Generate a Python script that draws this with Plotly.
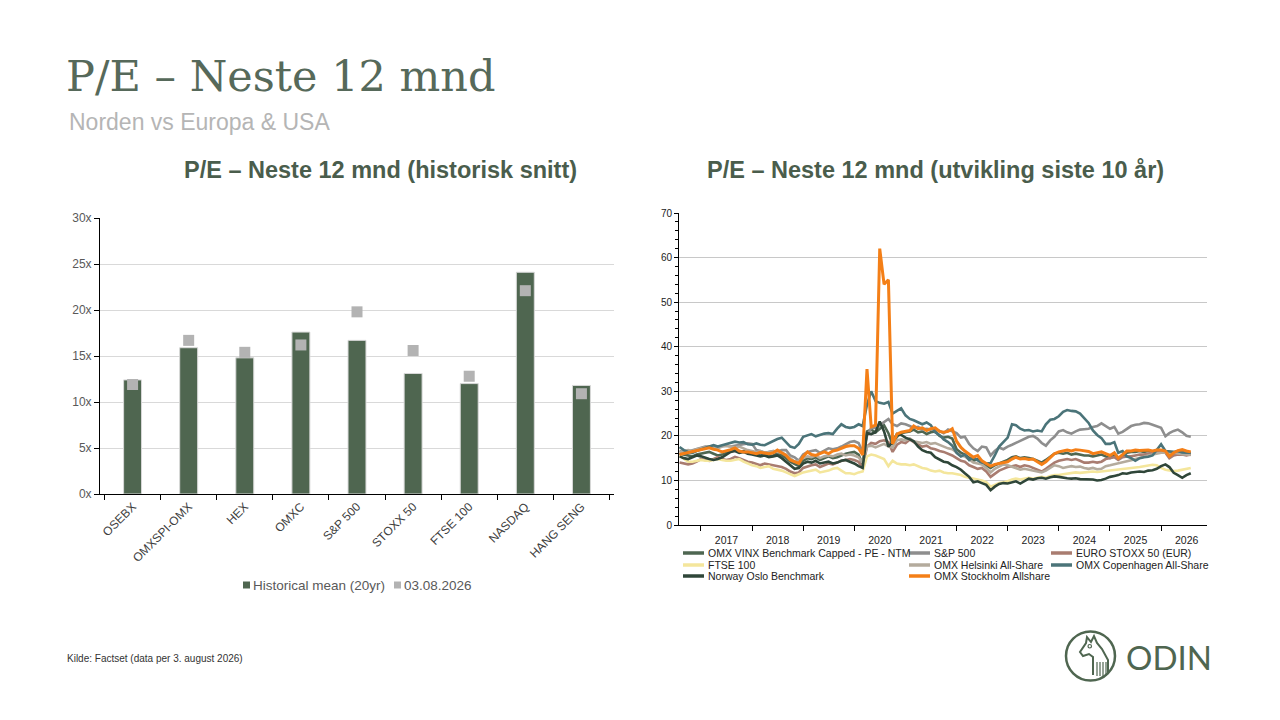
import pandas as pd
import plotly.graph_objects as go

# the page body has an 8px margin, so the figure is drawn 8px in from the corner
OFF = 8
W, H = 1264, 704
SANS = "Liberation Sans, Arial, sans-serif"
GREEN = "#4f6650"


def px(x):
    return (x - OFF) / W


def py(y):
    return 1 - (y - OFF) / H


# ---- left chart: P/E historical mean vs today ----
indices = ["OSEBX", "OMXSPI-OMX", "HEX", "OMXC", "S&P 500", "STOXX 50", "FTSE 100", "NASDAQ", "HANG SENG"]
hist_mean = [12.4, 15.9, 14.8, 17.6, 16.7, 13.1, 12.0, 24.1, 11.8]
current_pe = [11.9, 16.7, 15.4, 16.2, 19.8, 15.6, 12.8, 22.1, 10.9]

# ---- right chart: monthly P/E NTM, Aug 2016 - Aug 2026 ----
dates = pd.date_range("2016-08-01", "2026-08-01", freq="MS")

vinx = [16.0, 15.8, 15.6, 15.4, 15.8,
        16.0, 16.2, 16.4, 16.0, 15.6, 15.8, 16.2, 16.6, 16.8, 16.4, 16.6, 16.2,
        16.0, 15.8, 15.6, 15.8, 15.4, 15.6, 16.0, 15.6, 15.0, 14.2, 13.6, 13.2,
        14.4, 15.0, 14.8, 15.2, 14.6, 15.0, 15.4, 15.0, 15.2, 15.6, 16.0, 16.2,
        16.4, 15.8, 13.6, 21.0, 21.4, 20.8, 21.6, 22.4, 20.6, 18.0, 19.8, 20.6,
        20.8, 21.0, 21.4, 20.8, 21.0, 20.4, 20.8, 21.0, 20.0, 19.6, 19.8, 19.4,
        17.0, 16.2, 15.8, 15.0, 14.4, 14.8, 13.8, 13.4, 12.8, 13.4, 13.8, 14.2,
        14.6, 15.2, 15.4, 15.0, 15.2, 15.0, 14.8, 14.4, 14.0, 14.6, 15.4, 16.0,
        16.2, 16.0, 16.2, 15.8, 16.0, 15.8, 15.6, 15.6, 15.4, 15.6, 15.8, 15.4,
        15.0, 15.6, 14.8, 15.6, 16.2, 16.4, 16.4, 16.6, 16.4, 16.6, 16.4, 16.6,
        16.6, 16.4, 15.8, 16.2, 16.4, 16.6, 16.2, 16.0]

sp500 = [16.6, 16.4, 16.5, 16.8, 17.0,
         17.4, 17.6, 17.6, 17.4, 17.6, 17.7, 17.8, 17.6, 17.8, 18.0, 18.2, 18.3,
         18.2, 16.8, 16.6, 16.2, 16.4, 16.6, 16.5, 16.8, 16.8, 15.6, 15.2, 14.4,
         15.8, 16.4, 16.6, 16.8, 16.2, 16.8, 17.2, 17.0, 17.2, 17.6, 18.2, 18.6,
         18.8, 18.4, 16.4, 20.0, 21.8, 21.8, 22.4, 23.2, 23.8, 22.6, 22.2, 22.8,
         22.6, 22.2, 21.8, 22.0, 21.4, 21.6, 21.4, 21.6, 21.0, 20.6, 21.4, 21.0,
         20.6, 19.6, 19.8, 18.2, 17.2, 16.6, 17.6, 17.4, 15.6, 16.6, 17.4, 17.0,
         17.6, 18.0, 18.4, 18.8, 19.2, 19.8, 20.0, 19.4, 18.4, 17.8, 19.0, 19.8,
         21.0, 21.3, 20.8, 20.5, 21.0, 21.4, 21.5, 21.6, 22.0, 22.2, 22.8, 22.2,
         21.6, 22.0, 20.5, 20.9, 21.6, 22.2, 22.5, 22.6, 22.9, 22.8, 22.5, 22.2,
         21.8, 19.9, 20.6, 21.1, 21.4, 20.8, 20.0, 19.8]

eurostoxx = [14.0, 13.8, 13.6, 13.8, 14.2,
             14.8, 14.6, 14.4, 14.8, 15.2, 14.8, 14.6, 14.8, 15.3, 15.0, 14.6, 14.2,
             14.0, 13.6, 13.4, 13.8, 13.6, 13.4, 13.2, 13.0, 12.6, 12.0, 11.6, 11.8,
             12.8, 13.2, 13.4, 13.6, 13.0, 13.4, 13.8, 13.6, 14.0, 14.4, 14.6, 14.8,
             14.6, 14.2, 12.8, 17.6, 18.4, 18.2, 18.8, 19.0, 18.6, 16.4, 18.0, 18.6,
             18.4, 19.2, 18.6, 18.0, 17.6, 17.8, 17.2, 17.0, 16.6, 16.4, 16.0, 15.6,
             15.0, 14.4, 14.2, 13.4, 13.0, 12.6, 12.8, 12.0, 10.8, 11.4, 12.2, 12.6,
             13.0, 13.2, 13.4, 13.0, 13.4, 13.2, 12.8, 12.4, 12.0, 12.6, 13.4, 14.0,
             14.4, 14.6, 14.8, 14.6, 14.8, 14.4, 14.0, 14.0, 14.2, 14.0, 14.2, 14.8,
             15.0, 15.2, 14.6, 15.2, 15.4, 15.4, 15.6, 15.8, 15.8, 16.0, 16.2, 16.6,
             16.4, 16.2, 15.0, 15.6, 15.8, 15.8, 15.6, 15.8]

ftse = [15.6, 14.8, 14.2, 14.2, 14.4,
        14.6, 14.4, 14.4, 14.6, 14.8, 14.6, 14.4, 14.4, 14.6, 14.8, 14.2, 13.8,
        13.4, 13.2, 12.8, 13.0, 13.2, 12.6, 12.4, 12.2, 11.8, 11.4, 11.0, 11.4,
        11.8, 12.0, 12.2, 12.4, 11.8, 12.0, 12.2, 12.6, 12.8, 12.2, 11.6, 11.6,
        11.4, 11.8, 12.0, 15.4, 15.8, 15.6, 15.2, 14.8, 13.2, 14.4, 13.8, 13.6,
        13.6, 13.4, 13.6, 13.2, 12.8, 12.6, 12.2, 12.0, 12.2, 11.8, 11.6, 11.6,
        11.4, 11.2, 10.8, 10.6, 10.4, 10.2, 10.0, 9.6, 8.6, 9.0, 9.4, 9.6,
        9.8, 10.2, 10.4, 10.2, 10.4, 10.6, 10.4, 10.6, 10.8, 10.6, 11.0, 11.2,
        11.2, 11.4, 11.5, 11.6, 11.8, 11.7, 11.8, 11.9, 12.0, 11.9, 12.0, 12.2,
        12.3, 12.4, 12.4, 12.6, 12.7, 12.8, 12.9, 13.0, 13.2, 13.3, 13.5, 13.4,
        12.8, 12.4, 12.2, 12.1, 12.2, 12.4, 12.6, 12.8]

helsinki = [16.4, 16.6, 16.8, 16.6, 17.0,
            17.2, 17.4, 17.6, 17.4, 17.2, 17.6, 17.8, 17.6, 17.4, 17.6, 17.2, 16.8,
            16.6, 16.4, 16.6, 16.2, 16.4, 16.6, 16.4, 16.2, 15.8, 15.0, 14.2, 14.4,
            15.0, 15.4, 15.2, 15.6, 15.0, 15.4, 15.6, 15.4, 15.8, 16.0, 15.6, 15.8,
            15.6, 15.2, 14.0, 17.6, 17.8, 17.4, 17.8, 18.2, 17.6, 17.4, 19.0, 19.2,
            19.0, 19.4, 18.8, 18.6, 18.4, 18.6, 18.2, 18.4, 18.0, 17.6, 17.2, 17.0,
            16.2, 15.6, 15.4, 14.6, 14.0, 13.8, 13.6, 12.8, 11.8, 12.6, 13.2, 13.6,
            13.4, 13.0, 12.8, 12.4, 12.6, 12.4, 12.2, 12.0, 11.8, 12.2, 12.8, 13.4,
            13.2, 12.8, 13.0, 13.2, 13.0, 13.1, 12.8, 12.6, 12.8, 12.5, 12.6, 13.2,
            13.4, 13.6, 13.8, 14.0, 14.3, 14.5, 14.8, 15.0, 15.3, 15.6, 15.8, 16.0,
            16.2, 16.2, 16.3, 16.2, 16.0, 15.9, 15.8, 15.7]

copenhagen = [17.5, 16.8, 16.4, 16.2, 16.6,
              17.0, 17.4, 17.6, 17.9, 17.6, 17.9, 18.2, 18.5, 18.7, 18.5, 18.6, 18.1,
              18.0, 18.3, 18.0, 17.9, 18.4, 18.8, 19.3, 19.6, 18.6, 17.6, 17.3, 18.2,
              19.8, 20.2, 20.4, 19.9, 20.2, 20.5, 20.6, 20.4, 21.6, 22.6, 22.0, 21.8,
              22.0, 22.6, 22.2, 27.0, 30.0, 27.8, 27.4, 27.2, 27.6, 25.0, 25.6, 26.2,
              24.6, 23.8, 23.5, 23.0, 22.6, 23.0, 22.4, 20.8, 20.2, 19.2, 18.6, 17.8,
              16.2, 15.4, 15.8, 14.6, 15.2, 14.5, 14.0, 13.8, 13.9, 15.6, 17.6, 18.6,
              19.6, 22.6, 22.4, 21.6, 21.2, 21.3, 21.0, 21.2, 21.0, 22.6, 23.6, 23.8,
              24.4, 25.4, 25.8, 25.6, 25.5, 25.0, 24.0, 22.9, 21.2, 20.2, 19.5, 18.2,
              18.2, 18.6, 16.2, 16.6, 15.4, 15.0, 14.4, 15.0, 15.2, 15.3, 15.6, 16.8,
              18.1, 16.6, 16.5, 16.4, 16.6, 16.3, 16.2, 16.2]

norway = [15.4, 15.0, 14.8, 15.2, 15.6,
          15.4, 15.0, 14.8, 14.6, 14.8, 15.2, 15.8, 16.4, 16.6, 16.2, 16.4, 16.0,
          15.8, 15.6, 15.4, 15.6, 15.2, 15.4, 15.6, 15.0, 14.2, 13.4, 12.6, 12.8,
          13.8, 14.2, 14.0, 14.4, 13.8, 14.0, 14.2, 13.8, 14.0, 14.4, 14.6, 14.2,
          13.8, 13.2, 12.8, 20.6, 20.4, 20.8, 23.2, 21.0, 17.6, 18.6, 20.4, 20.2,
          19.6, 19.2, 18.8, 17.6, 16.8, 16.4, 16.2, 15.2, 14.6, 14.2, 14.0, 13.4,
          13.0, 12.4, 11.6, 10.8, 9.6, 9.8, 9.4, 9.0, 7.8, 8.6, 9.2, 9.4,
          9.3, 9.6, 9.8, 9.3, 9.8, 10.4, 10.2, 10.5, 10.6, 10.4, 10.7, 10.9,
          10.8, 10.6, 10.5, 10.4, 10.5, 10.3, 10.3, 10.2, 10.2, 10.0, 10.1, 10.4,
          10.8, 11.0, 11.2, 11.6, 11.5, 11.8, 11.9, 12.0, 11.9, 12.2, 12.3, 12.6,
          13.2, 13.6, 13.0, 11.7, 11.2, 10.6, 11.2, 11.6]

stockholm = [15.8, 16.0, 16.2, 16.4, 16.6,
             16.8, 17.0, 17.3, 17.0, 16.8, 16.4, 16.6, 16.9, 17.3, 16.6, 16.4, 16.4,
             16.2, 16.0, 16.3, 16.1, 16.0, 16.2, 16.8, 16.2, 15.6, 14.6, 14.2, 13.8,
             15.4, 16.4, 15.8, 15.6, 16.0, 16.4, 16.0, 16.6, 16.8, 17.2, 17.6, 17.8,
             17.8, 17.2, 15.7, 35.0, 22.0, 22.4, 62.0, 54.0, 55.0, 18.2, 20.4, 20.8,
             21.0, 21.2, 22.2, 21.6, 21.8, 21.2, 21.6, 21.8, 21.0, 20.8, 21.0, 21.6,
             18.8, 17.4, 16.6, 15.8, 15.2, 15.6, 14.4, 13.8, 13.2, 13.6, 13.8, 14.0,
             14.2, 14.8, 15.2, 14.8, 14.9, 14.7, 14.8, 14.2, 13.6, 14.2, 15.2, 16.0,
             16.4, 16.6, 16.8, 16.6, 16.9, 16.8, 16.6, 16.5, 16.0, 16.2, 16.4, 16.0,
             15.6, 16.2, 15.0, 15.8, 16.6, 16.6, 16.8, 16.7, 16.8, 16.8, 16.6, 16.8,
             16.8, 16.6, 15.4, 16.2, 16.7, 16.9, 16.6, 16.4]

series_names = ["OMX VINX Benchmark Capped - PE - NTM", "S&P 500", "EURO STOXX 50 (EUR)",
                "FTSE 100", "OMX Helsinki All-Share", "OMX Copenhagen All-Share",
                "Norway Oslo Benchmark", "OMX Stockholm Allshare"]
series_values = [vinx, sp500, eurostoxx, ftse, helsinki, copenhagen, norway, stockholm]
series_colors = ["#4e6651", "#8e8e8e", "#a97c70", "#f4e69c", "#b4ab9d", "#4b7479", "#2f4639", "#f47f17"]

fig = go.Figure()

fig.add_trace(go.Bar(
    x=indices, y=hist_mean, name="Historical mean (20yr)",
    width=0.32, marker=dict(color=GREEN, line=dict(color="#d9d9d9", width=1)),
    showlegend=False, xaxis="x", yaxis="y"))
fig.add_trace(go.Scatter(
    x=indices, y=current_pe, name="03.08.2026", mode="markers",
    marker=dict(symbol="square", size=11, color="#b3b3b3"),
    showlegend=False, xaxis="x", yaxis="y"))

for name, vals, col in zip(series_names, series_values, series_colors):
    fig.add_trace(go.Scatter(
        x=dates, y=vals, name=name, mode="lines",
        line=dict(color=col, width=3 if name == "OMX Stockholm Allshare" else 2.6),
        showlegend=False, xaxis="x2", yaxis="y2"))

fig.update_layout(
    width=W, height=H,
    margin=dict(l=0, r=0, t=0, b=0, autoexpand=False),
    paper_bgcolor="white", plot_bgcolor="white",
    font=dict(family=SANS, color="#404040"),
    xaxis=dict(domain=[px(100), px(614)], tickangle=-45, ticks="outside", tickson="boundaries",
               ticklen=5, tickcolor="black", showline=True, linecolor="black",
               tickfont=dict(size=12, color="#404040"), automargin=False),
    yaxis=dict(domain=[py(494), py(218)], range=[0, 30], dtick=5, ticksuffix="x",
               showline=True, linecolor="black", ticks="outside", ticklen=5, tickcolor="black",
               gridcolor="#d9d9d9", zeroline=False, tickfont=dict(size=12, color="#595959"),
               automargin=False),
    xaxis2=dict(domain=[px(679), px(1207)], type="date", range=["2016-07-28", "2026-11-25"],
                tick0="2017-01-01", dtick="M12", tickformat="%Y", ticklabelmode="period",
                ticks="outside", ticklen=5, tickcolor="black", showline=True, linecolor="black",
                showgrid=False, tickfont=dict(size=10.5, color="#222222"), anchor="y2",
                automargin=False),
    yaxis2=dict(domain=[py(525), py(213)], range=[0, 70], dtick=10, anchor="x2",
                showline=True, linecolor="black", ticks="outside", ticklen=4, tickcolor="black",
                minor=dict(dtick=2, ticks="outside", ticklen=3, tickcolor="black", showgrid=False),
                gridcolor="#c8c8c8", zeroline=False, tickfont=dict(size=10, color="#222222"),
                automargin=False),
    showlegend=False,
    hovermode=False,
)

annotations = [
    dict(text="P/E – Neste 12 mnd", x=px(64), y=py(76), xanchor="left", yanchor="middle",
         font=dict(family="DejaVu Serif", size=43, color="#56695a")),
    dict(text="Norden vs Europa & USA", x=px(67), y=py(122), xanchor="left", yanchor="middle",
         font=dict(size=23, color="#b5b5b5")),
    dict(text="<b>P/E – Neste 12 mnd (historisk snitt)</b>", x=px(380), y=py(170),
         xanchor="center", yanchor="middle", font=dict(size=23.5, color="#4a5d4c")),
    dict(text="<b>P/E – Neste 12 mnd (utvikling siste 10 år)</b>", x=px(935), y=py(170),
         xanchor="center", yanchor="middle", font=dict(size=23.5, color="#4a5d4c")),
    dict(text="Kilde: Factset (data per 3. august 2026)", x=px(65), y=py(658),
         xanchor="left", yanchor="middle", font=dict(size=10, color="#333333")),
    dict(text="ODIN", x=px(1124), y=py(657), xanchor="left", yanchor="middle",
         font=dict(family="Lato", size=33, color=GREEN)),
]

shapes = []

# legend of the bar chart: small squares right next to the text
left_legend = [("Historical mean (20yr)", GREEN, 243), ("03.08.2026", "#b3b3b3", 394)]
for name, col, lx in left_legend:
    shapes.append(dict(type="rect", xref="paper", yref="paper", x0=px(lx), x1=px(lx + 7),
                       y0=py(588.5), y1=py(581.5), fillcolor=col, line=dict(width=0)))
    annotations.append(dict(text=name, x=px(lx + 8), y=py(585), xanchor="left", yanchor="middle",
                            font=dict(size=13.5, color="#595959")))

# three-column legend of the line chart
col_x = [683, 909, 1051]
row_y = [553, 565, 576]
for i, (name, col) in enumerate(zip(series_names, series_colors)):
    cx, ry = col_x[i % 3], row_y[i // 3]
    shapes.append(dict(type="line", xref="paper", yref="paper", x0=px(cx), x1=px(cx + 21),
                       y0=py(ry), y1=py(ry), line=dict(color=col, width=3.5)))
    annotations.append(dict(text=name, x=px(cx + 23), y=py(ry), xanchor="left", yanchor="middle",
                            font=dict(size=10.5, color="#222222")))

for a in annotations:
    a.update(xref="paper", yref="paper", showarrow=False)

# ODIN logo: ring + simple horse head
shapes.append(dict(type="circle", xref="paper", yref="paper", x0=px(1066), x1=px(1115),
                   y0=py(680.5), y1=py(631.5), line=dict(color=GREEN, width=2.5)))
horse = [(1108, 674), (1108, 660), (1102, 649), (1097, 643), (1094, 636), (1091, 642),
         (1087, 637), (1086, 643), (1080, 652), (1083, 656), (1089, 654), (1093, 657), (1093, 675)]
path = "M " + " L ".join(f"{px(a):.5f},{py(b):.5f}" for a, b in horse)
shapes.append(dict(type="path", xref="paper", yref="paper", path=path,
                   line=dict(color=GREEN, width=2)))
for sx in [1097, 1100, 1103, 1106]:
    shapes.append(dict(type="line", xref="paper", yref="paper", x0=px(sx), x1=px(sx),
                       y0=py(662), y1=py(676), line=dict(color=GREEN, width=1.2)))
shapes.append(dict(type="circle", xref="paper", yref="paper", x0=px(1088), x1=px(1091.5),
                   y0=py(648), y1=py(644.5), line=dict(color=GREEN, width=1.2)))

fig.update_layout(annotations=annotations, shapes=shapes)

fig.write_html("out.html")
